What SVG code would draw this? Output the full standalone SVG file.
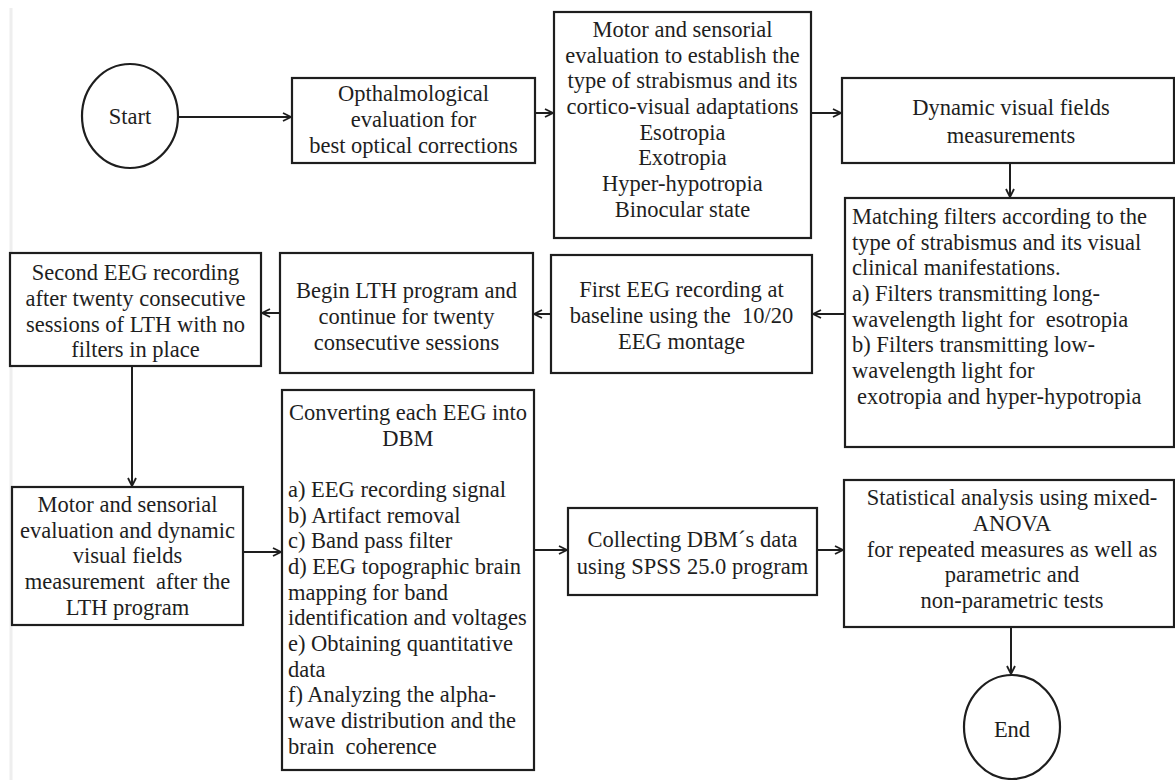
<svg xmlns="http://www.w3.org/2000/svg" width="1175" height="780" viewBox="0 0 1175 780">
<defs>
<marker id="arr" markerWidth="10" markerHeight="10" refX="9" refY="5" orient="auto" markerUnits="userSpaceOnUse">
<path d="M1,1 L9,5 L1,9" fill="none" stroke="#1e1e1e" stroke-width="1.8"/>
</marker>
</defs>
<style>
.box{fill:#fff;stroke:#1e1e1e;stroke-width:2.2}
.t{font-family:"Liberation Serif","Times New Roman",serif;font-size:22.5px;fill:#1e1e1e}
.c{text-anchor:middle}
.con{stroke:#1e1e1e;stroke-width:2;fill:none;marker-end:url(#arr)}
</style>
<rect width="1175" height="780" fill="#fff"/>
<line x1="11" y1="8" x2="11" y2="780" stroke="#eeeeee" stroke-width="3"/>
<g id="connectors">
<line class="con" x1="178" y1="117" x2="291" y2="117"/>
<line class="con" x1="535" y1="113" x2="553" y2="113"/>
<line class="con" x1="811" y1="113" x2="841" y2="113"/>
<line class="con" x1="1010" y1="163" x2="1010" y2="197"/>
<line class="con" x1="845" y1="314" x2="813" y2="314"/>
<line class="con" x1="551" y1="314" x2="534" y2="314"/>
<line class="con" x1="280" y1="313" x2="262" y2="313"/>
<line class="con" x1="132" y1="366" x2="132" y2="486"/>
<line class="con" x1="243" y1="552" x2="281" y2="552"/>
<line class="con" x1="534" y1="550" x2="567" y2="550"/>
<line class="con" x1="817" y1="550" x2="843" y2="550"/>
<line class="con" x1="1011" y1="627" x2="1011" y2="674"/>
</g>
<g id="start">
<ellipse class="box" cx="130" cy="116" rx="48" ry="52"/>
<text class="t c" x="130" y="124">Start</text>
</g>
<g id="opthalmological">
<rect class="box" x="292" y="78" width="243" height="85"/>
<text class="t c" x="413.5" y="101">Opthalmological</text>
<text class="t c" x="413.5" y="127">evaluation for</text>
<text class="t c" x="413.5" y="153">best optical corrections</text>
</g>
<g id="motor-sensorial">
<rect class="box" x="554" y="12" width="257" height="226"/>
<text class="t c" x="682.5" y="37">Motor and sensorial</text>
<text class="t c" x="682.5" y="63">evaluation to establish the</text>
<text class="t c" x="682.5" y="88">type of strabismus and its</text>
<text class="t c" x="682.5" y="114">cortico-visual adaptations</text>
<text class="t c" x="682.5" y="140">Esotropia</text>
<text class="t c" x="682.5" y="165">Exotropia</text>
<text class="t c" x="682.5" y="191">Hyper-hypotropia</text>
<text class="t c" x="682.5" y="217">Binocular state</text>
</g>
<g id="dynamic-visual">
<rect class="box" x="842" y="78" width="332" height="85"/>
<text class="t c" x="1011" y="115">Dynamic visual fields</text>
<text class="t c" x="1011" y="143">measurements</text>
</g>
<g id="matching-filters">
<rect class="box" x="845" y="198" width="329" height="249"/>
<text class="t" x="852" y="224">Matching filters according to the</text>
<text class="t" x="852" y="250">type of strabismus and its visual</text>
<text class="t" x="852" y="275">clinical manifestations.</text>
<text class="t" x="852" y="301">a) Filters transmitting long-</text>
<text class="t" x="852" y="327" xml:space="preserve">wavelength light for  esotropia</text>
<text class="t" x="852" y="352">b) Filters transmitting low-</text>
<text class="t" x="852" y="378">wavelength light for</text>
<text class="t" x="857" y="404">exotropia and hyper-hypotropia</text>
</g>
<g id="first-eeg">
<rect class="box" x="551" y="255" width="261" height="118"/>
<text class="t c" x="681.5" y="297">First EEG recording at</text>
<text class="t c" x="681.5" y="323" xml:space="preserve">baseline using the  10/20</text>
<text class="t c" x="681.5" y="349">EEG montage</text>
</g>
<g id="begin-lth">
<rect class="box" x="280" y="253" width="253" height="120"/>
<text class="t c" x="406.5" y="298">Begin LTH program and</text>
<text class="t c" x="406.5" y="324">continue for twenty</text>
<text class="t c" x="406.5" y="350">consecutive sessions</text>
</g>
<g id="second-eeg">
<rect class="box" x="10" y="253" width="251" height="113"/>
<text class="t c" x="135.5" y="280">Second EEG recording</text>
<text class="t c" x="135.5" y="306">after twenty consecutive</text>
<text class="t c" x="135.5" y="332">sessions of LTH with no</text>
<text class="t c" x="135.5" y="357">filters in place</text>
</g>
<g id="motor-sensorial-after">
<rect class="box" x="12" y="487" width="231" height="138"/>
<text class="t c" x="127.5" y="512">Motor and sensorial</text>
<text class="t c" x="127.5" y="538">evaluation and dynamic</text>
<text class="t c" x="127.5" y="563">visual fields</text>
<text class="t c" x="127.5" y="589" xml:space="preserve">measurement  after the</text>
<text class="t c" x="127.5" y="615">LTH program</text>
</g>
<g id="converting-eeg">
<rect class="box" x="282" y="390" width="252" height="380"/>
<text class="t c" x="408" y="420">Converting each EEG into</text>
<text class="t c" x="408" y="446">DBM</text>
<text class="t" x="288" y="497">a) EEG recording signal</text>
<text class="t" x="288" y="523">b) Artifact removal</text>
<text class="t" x="288" y="548">c) Band pass filter</text>
<text class="t" x="288" y="574">d) EEG topographic brain</text>
<text class="t" x="288" y="600">mapping for band</text>
<text class="t" x="288" y="625">identification and voltages</text>
<text class="t" x="288" y="651">e) Obtaining quantitative</text>
<text class="t" x="288" y="677">data</text>
<text class="t" x="288" y="702">f) Analyzing the alpha-</text>
<text class="t" x="288" y="728">wave distribution and the</text>
<text class="t" x="288" y="754" xml:space="preserve">brain  coherence</text>
</g>
<g id="collecting-dbm">
<rect class="box" x="568" y="508" width="249" height="87"/>
<text class="t c" x="692.5" y="547">Collecting DBM´s data</text>
<text class="t c" x="692.5" y="574">using SPSS 25.0 program</text>
</g>
<g id="statistical-analysis">
<rect class="box" x="844" y="480" width="330" height="147"/>
<text class="t c" x="1012" y="505">Statistical analysis using mixed-</text>
<text class="t c" x="1012" y="531">ANOVA</text>
<text class="t c" x="1012" y="557">for repeated measures as well as</text>
<text class="t c" x="1012" y="582">parametric and</text>
<text class="t c" x="1012" y="608">non-parametric tests</text>
</g>
<g id="end">
<ellipse class="box" cx="1012" cy="727" rx="48" ry="52"/>
<text class="t c" x="1012" y="737">End</text>
</g>
</svg>
